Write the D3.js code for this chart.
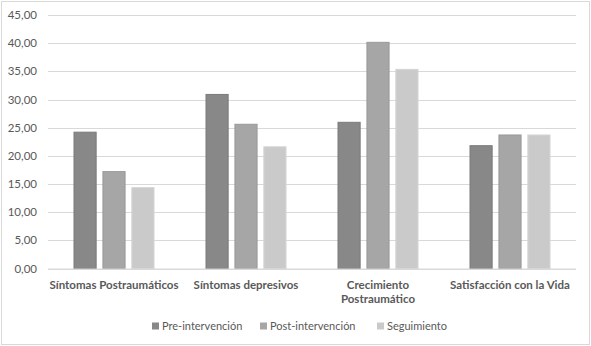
<!DOCTYPE html>
<html lang="es">
<head>
  <meta charset="UTF-8">
  <script src="https://cdn.jsdelivr.net/npm/d3@7"></script>
  <title>Intervención</title>
  <style>
    body { margin: 0; background: #fff; }
    text { font-family: Lato, "Open Sans", sans-serif; fill: #595959; }
  </style>
</head>
<body>
  <script>
    const categories = [["Síntomas Postraumáticos"], ["Síntomas depresivos"], ["Crecimiento", "Postraumático"], ["Satisfacción con la Vida"]]
    const series = ["Pre-intervención", "Post-intervención", "Seguimiento"]
    const preValues = [24.2, 30.9, 25.95, 21.8]
    const postValues = [17.2, 25.6, 40.15, 23.7]
    const followValues = [14.35, 21.6, 35.35, 23.7]
    const yTicks = [0, 5, 10, 15, 20, 25, 30, 35, 40, 45]
    const colors = ["#888888", "#a6a6a6", "#cacaca"]
    const strokes = ["#7a7a7a", "#999999", "#d4d4d4"]

    const W = 591, H = 346
    const svg = d3.select('body').append('svg').attr('width', W).attr('height', H)

    // chart border
    svg.append('rect').attr('x', 1.5).attr('y', 1.5).attr('width', 588).attr('height', 343)
      .attr('fill', 'white').attr('stroke', '#d9d9d9')

    const x = d3.scaleBand().domain(d3.range(categories.length)).range([48, 576])
    const y = d3.scaleLinear().domain([0, 45]).range([268.5, 15])
    const x1 = d3.scaleBand().domain(d3.range(series.length)).range([25.5, x.bandwidth() - 25.5]).paddingInner(0.2)

    // gridlines
    svg.append('g').selectAll('line').data(yTicks).enter().append('line')
      .attr('x1', 48).attr('x2', 576)
      .attr('y1', d => Math.round(y(d)) + 0.5).attr('y2', d => Math.round(y(d)) + 0.5)
      .attr('stroke', '#d9d9d9')

    // y labels
    svg.append('g').selectAll('text').data(yTicks).enter().append('text')
      .attr('x', 37).attr('y', d => y(d)).attr('dy', '0.35em')
      .attr('text-anchor', 'end').style('font-size', '11.5px')
      .text(d => d.toFixed(2).replace('.', ','))

    const values = [preValues, postValues, followValues]
    const g = svg.selectAll('g.cat').data(categories).enter().append('g').attr('class', 'cat')
      .attr('transform', (d, i) => `translate(${x(i)},0)`)
    g.selectAll('rect').data((d, i) => values.map((v, s) => ({ s, v: v[i] }))).enter().append('rect')
      .attr('x', d => x1(d.s) + 0.5).attr('width', x1.bandwidth() - 1)
      .attr('y', d => y(d.v)).attr('height', d => y(0) - y(d.v))
      .attr('fill', d => colors[d.s]).attr('stroke', d => strokes[d.s]).attr('stroke-width', 1)

    // axis baseline
    svg.append('line').attr('x1', 48).attr('x2', 576).attr('y1', 269).attr('y2', 269)
      .attr('stroke', '#d9d9d9')

    // category labels
    g.append('text').attr('x', x.bandwidth() / 2).attr('y', 289)
      .attr('text-anchor', 'middle').style('font-size', '11.5px').style('font-weight', 'bold')
      .selectAll('tspan').data(d => d).enter().append('tspan')
      .attr('x', x.bandwidth() / 2).attr('dy', (d, i) => i ? 14 : 0).text(d => d)

    // legend
    const legendX = [152, 260, 377]
    const lg = svg.selectAll('g.leg').data(series).enter().append('g').attr('class', 'leg')
      .attr('transform', (d, i) => `translate(${legendX[i]},326)`)
    lg.append('rect').attr('x', 0).attr('y', -3.5).attr('width', 7).attr('height', 7)
      .attr('fill', (d, i) => colors[i])
    lg.append('text').attr('x', 10).attr('dy', '0.35em').style('font-size', '11px').text(d => d)
  </script>
</body>
</html>
